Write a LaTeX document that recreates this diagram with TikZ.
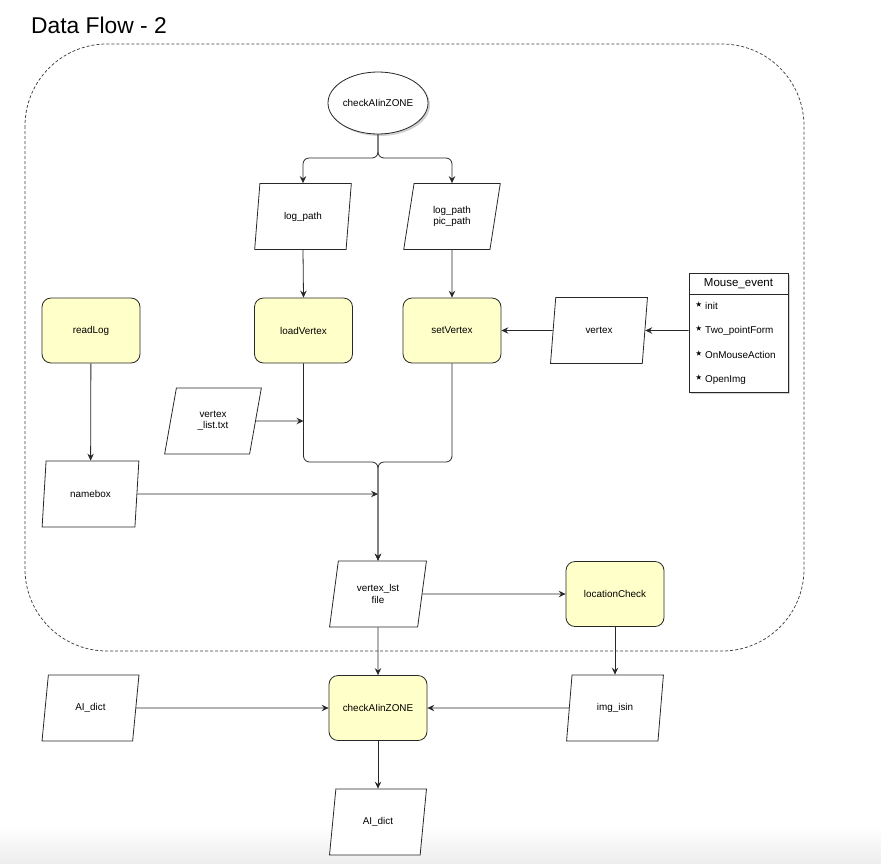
\documentclass[tikz,border=0pt]{standalone}
\usepackage{fontspec}
\setmainfont{Liberation Sans}
\newfontfamily\symfont{DejaVu Sans}
\usetikzlibrary{shapes.geometric,arrows.meta,shadows}
\definecolor{procfill}{RGB}{255,255,202}
\definecolor{linecol}{RGB}{40,40,40}
\newcommand{\mystar}{\raisebox{-0.6pt}{\symfont\fontsize{15}{15}\selectfont ⋆}}
\begin{document}
\begin{tikzpicture}[x=1pt,y=-1pt,
  base/.style={font=\fontsize{9.9}{11.5}\selectfont, align=center, inner sep=0pt, line width=0.8pt, draw=linecol, text=black},
  proc/.style={base, rectangle, rounded corners=9pt, fill=procfill, minimum width=98pt, minimum height=65pt},
  para/.style={base, trapezium, trapezium left angle=76, trapezium right angle=104, trapezium stretches=true, minimum width=97pt, minimum height=66pt, fill=white},
  arr/.style={line width=0.8pt, draw=linecol, -{Stealth[length=7pt,width=6.5pt,inset=2.5pt]}},
  plain/.style={line width=0.8pt, draw=linecol},
  softshadow/.style={drop shadow={shadow xshift=2pt, shadow yshift=-2pt, opacity=0.18, fill=black}},
  item/.style={font=\fontsize{9.9}{11.5}\selectfont, inner sep=0pt, anchor=west}
]
\useasboundingbox (0,0) rectangle (881,863);
\shade[top color=white, bottom color=black!7] (0,826) rectangle (881,863);

% title
\node[font=\fontsize{22.8}{27}\selectfont, anchor=west, inner sep=0pt] (title) at (31,25) {Data Flow - 2};

% dashed frame
\draw[line width=0.75pt, draw=black!75, dash pattern=on 3pt off 2pt, rounded corners=82pt] (25,44) rectangle (804,651);

% nodes
\node[base, ellipse, minimum width=100pt, minimum height=62pt, fill=white, softshadow] (ell) at (378,103) {checkAIinZONE};
\node[para] (lp) at (303,216.5) {log\_path};
\node[para] (lpp) at (452,216.5) {log\_path\\pic\_path};
\node[proc] (readLog) at (91,330.5) {readLog};
\node[proc] (loadV) at (303.5,330.5) {loadVertex};
\node[proc] (setV) at (452,330.5) {setVertex};
\node[para] (vtx) at (599,330.5) {vertex};
\node[para] (vlt) at (213,421) {vertex\\\_list.txt};
\node[para] (namebox) at (90.5,494) {namebox};
\node[para] (vlst) at (378,594) {vertex\_lst\\file};
\node[proc] (loc) at (615,594) {locationCheck};
\node[proc] (chk) at (378,708) {checkAIinZONE};
\node[para] (ai1) at (90.5,708) {AI\_dict};
\node[para] (img) at (615,708) {img\_isin};
\node[para] (ai2) at (378,822) {AI\_dict};

% Mouse_event class box
\node[base, rectangle, minimum width=99pt, minimum height=119pt, fill=white, softshadow] (mouse) at (738.5,332.5) {};
\node[font=\fontsize{11.5}{13}\selectfont, inner sep=0pt] (mtitle) at (738.5,284) {Mouse\_event};
\draw[plain] (mouse.north west |- 0,294) coordinate (msepl) -- (mouse.north east |- 0,294) coordinate (msepr);
\node[item] (m1) at (694,306) {\mystar\,init};
\node[item] (m2) at (694,330.5) {\mystar\,Two\_pointForm};
\node[item] (m3) at (694,355) {\mystar\,OnMouseAction};
\node[item] (m4) at (694,379.5) {\mystar\,OpenImg};

% junction coordinates
\coordinate (split) at (378,158);
\coordinate (merge) at (378,462);
\coordinate (j1) at (303.5,421);
\coordinate (j2) at (378,494);

% connectors
\draw[arr, rounded corners=6pt] (ell.south) -- (split) -| (lp.north);
\draw[arr, rounded corners=6pt] (ell.south) -- (split) -| (lpp.north);
\draw[arr] (lp.south) -- (loadV.north);
\draw[arr] (lpp.south) -- (setV.north);
\draw[arr] (mouse.west |- vtx) -- (vtx);
\draw[arr] (vtx) -- (setV);
\draw[arr] (readLog) -- (namebox);
\draw[arr] (vlt) -- (j1);
\draw[arr, rounded corners=6pt] (setV.south) |- (merge) -- (vlst.north);
\draw[arr, rounded corners=6pt] (loadV.south) |- (merge) -- (vlst.north);
\draw[arr] (namebox) -- (j2);
\draw[arr] (vlst) -- (loc);
\draw[arr] (vlst) -- (chk);
\draw[arr] (loc) -- (img);
\draw[arr] (ai1) -- (chk);
\draw[arr] (img) -- (chk);
\draw[arr] (chk) -- (ai2);
\end{tikzpicture}
\end{document}
